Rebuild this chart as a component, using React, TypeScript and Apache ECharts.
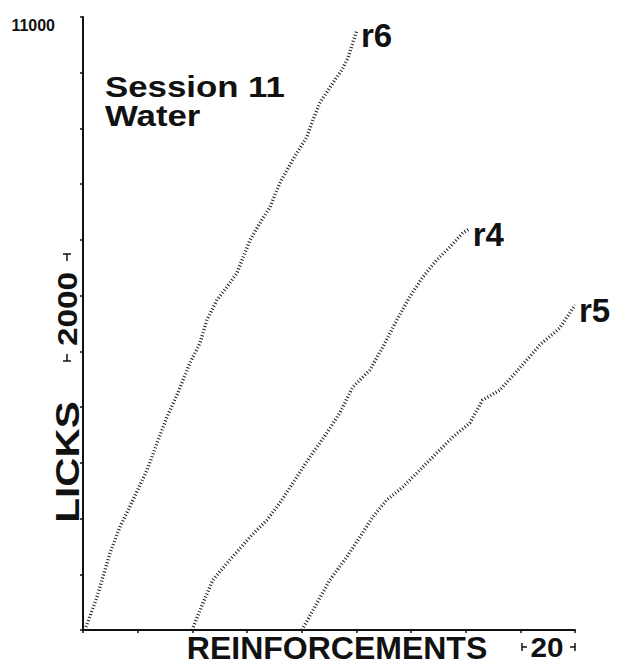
import React, { useEffect, useRef } from "react";
import * as echarts from "echarts";

// Cumulative lick records, session 11 (water): [reinforcements, cumulative licks]
const r6Points: [number, number][] = [
  [0.7, 0], [5.1, 592], [9.9, 1381], [13.5, 1848], [18.3, 2332], [23.4, 2870],
  [27.1, 3355], [30.7, 3821], [34.7, 4252], [39.1, 4790], [42.8, 5149],
  [45.3, 5561], [49.0, 5920], [52.6, 6153], [56.3, 6405], [61.1, 6997],
  [64.7, 7302], [68.4, 7589], [72.0, 8019], [74.6, 8252], [78.2, 8557],
  [81.9, 8844], [84.1, 9149], [86.6, 9454], [92.1, 9867], [94.7, 10046],
  [96.9, 10262], [100.2, 10764],
];

const r4Points: [number, number][] = [
  [39.9, 0], [43.9, 484], [47.5, 897], [53.7, 1256], [61.1, 1668], [67.3, 1973],
  [72.0, 2278], [78.2, 2745], [83.0, 3104], [89.2, 3534], [93.9, 3893],
  [98.7, 4359], [104.9, 4664], [109.7, 5077], [114.8, 5561], [119.5, 5974],
  [124.3, 6333], [129.4, 6638], [134.2, 6871], [138.9, 7122], [141.1, 7194],
];

const r5Points: [number, number][] = [
  [80.1, 0], [85.6, 484], [90.3, 897], [96.5, 1310], [101.3, 1668], [106.0, 2027],
  [111.1, 2332], [117.0, 2565], [123.2, 2870], [129.4, 3175], [135.3, 3462],
  [141.5, 3714], [146.2, 4126], [152.5, 4306], [159.8, 4700], [167.1, 5113],
  [174.4, 5418], [180.0, 5831],
];

const seriesNames = ["r6", "r4", "r5"];
const xMax = 180;
const xStep = 20;
const yMax = 11000;
const yStep = 1000;
const titleLines = ["Session 11", "Water"];
const xScaleLabel = "20";
const yScaleLabel = "2000";

const FONT = "'Liberation Sans', Arial, Helvetica, sans-serif";
const INK = "#111";

export default function App() {
  const ref = useRef<HTMLDivElement>(null);

  useEffect(() => {
    if (!ref.current) return;
    const chart = echarts.init(ref.current, undefined, { renderer: "svg" });

    const hatched = (name: string, data: [number, number][]) => ({
      type: "line",
      name,
      data,
      showSymbol: false,
      silent: true,
      lineStyle: { color: "#1e1e1e", width: 3.4, type: [1, 2.2] },
      endLabel: {
        show: true,
        formatter: "{a}",
        fontFamily: FONT,
        fontWeight: "bold",
        fontSize: 33,
        color: INK,
        distance: 4,
        offset: [0, 5],
      },
    });

    const bold = (size: number) => ({
      fontFamily: FONT,
      fontWeight: "bold",
      fontSize: size,
      fill: INK,
    });

    const tick = (x1: number, y1: number, x2: number, y2: number) => ({
      type: "line",
      shape: { x1, y1, x2, y2 },
      style: { stroke: INK, lineWidth: 1.5 },
    });

    chart.setOption({
      animation: false,
      backgroundColor: "#fff",
      grid: { left: 83, right: 43, top: 17, bottom: 36, containLabel: false },
      xAxis: {
        type: "value",
        min: 0,
        max: xMax,
        interval: xStep,
        axisLine: { show: true, lineStyle: { color: INK, width: 2 } },
        axisTick: { show: true, length: 3, lineStyle: { color: INK, width: 1.5 } },
        axisLabel: { show: false },
        splitLine: { show: false },
      },
      yAxis: {
        type: "value",
        min: 0,
        max: yMax,
        interval: yStep,
        axisLine: { show: true, lineStyle: { color: INK, width: 2 } },
        axisTick: { show: true, length: 3, lineStyle: { color: INK, width: 1.5 } },
        axisLabel: {
          show: true,
          margin: 28,
          verticalAlign: "top",
          fontFamily: FONT,
          fontWeight: "bold",
          fontSize: 16,
          color: INK,
          formatter: (v: number) => (v === yMax ? String(v) : ""),
        },
        splitLine: { show: false },
      },
      series: [
        hatched(seriesNames[0], r6Points),
        hatched(seriesNames[1], r4Points),
        hatched(seriesNames[2], r5Points),
      ],
      graphic: [
        {
          type: "text",
          x: 105,
          y: 73,
          scaleX: 1.2,
          style: {
            ...bold(29),
            text: titleLines.join("\n"),
            lineHeight: 29,
          },
        },
        {
          type: "text",
          x: 337,
          y: 648,
          style: {
            ...bold(32),
            text: "REINFORCEMENTS",
            align: "center",
            verticalAlign: "middle",
          },
        },
        {
          type: "text",
          x: 67,
          y: 462,
          rotation: Math.PI / 2,
          scaleX: 1.19,
          style: {
            ...bold(34),
            text: "LICKS",
            align: "center",
            verticalAlign: "middle",
          },
        },
        // Horizontal scale bar: 20 reinforcements
        {
          type: "text",
          x: 547,
          y: 647,
          scaleX: 1.1,
          style: { ...bold(27), text: xScaleLabel, align: "center", verticalAlign: "middle" },
        },
        tick(522, 643, 522, 651),
        tick(522, 647, 527, 647),
        tick(575, 643, 575, 651),
        tick(570, 647, 575, 647),
        // Vertical scale bar: 2000 licks
        {
          type: "text",
          x: 67,
          y: 309,
          rotation: Math.PI / 2,
          scaleX: 1.19,
          style: { ...bold(28), text: yScaleLabel, align: "center", verticalAlign: "middle" },
        },
        tick(63, 254, 71, 254),
        tick(67, 254, 67, 261),
        tick(63, 361, 71, 361),
        tick(67, 354, 67, 361),
      ],
    });

    return () => chart.dispose();
  }, []);

  return (
    <div
      ref={ref}
      style={{ position: "fixed", left: 0, top: 0, width: 618, height: 666, background: "#fff" }}
    />
  );
}
